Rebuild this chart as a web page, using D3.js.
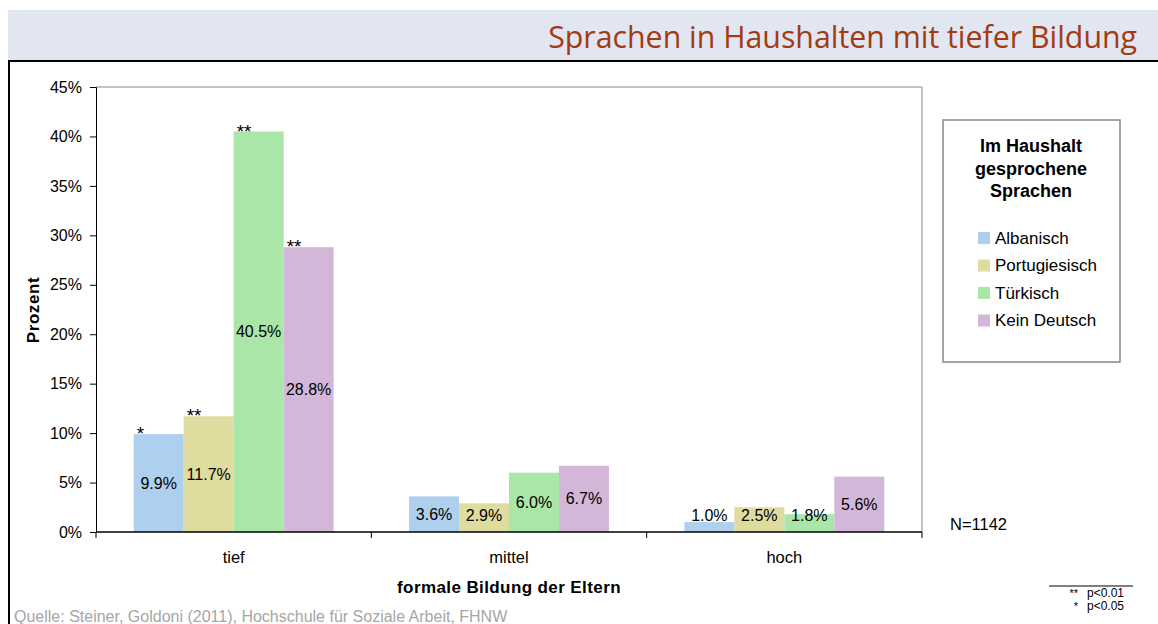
<!DOCTYPE html>
<html>
<head>
<meta charset="utf-8">
<script src="https://cdn.jsdelivr.net/npm/d3@7"></script>
<style>
  body { margin: 0; background: #fff; }
  svg { display: block; font-family: Arial, "Liberation Sans", sans-serif; }
</style>
</head>
<body>
<script>
var categories = ['tief', 'mittel', 'hoch'];
var seriesNames = ['Albanisch', 'Portugiesisch', 'Türkisch', 'Kein Deutsch'];
var seriesColors = ['#AECFEE', '#DFDC9F', '#A9E6A7', '#D3B7D9'];
var albanisch = [9.9, 3.6, 1.0];
var portugiesisch = [11.7, 2.9, 2.5];
var tuerkisch = [40.5, 6.0, 1.8];
var keinDeutsch = [28.8, 6.7, 5.6];
var stars = [['*', '', ''], ['**', '', ''], ['**', '', ''], ['**', '', '']];
var yTicks = [0, 5, 10, 15, 20, 25, 30, 35, 40, 45];

var series = [albanisch, portugiesisch, tuerkisch, keinDeutsch];

var width = 1158, height = 624;
var plot = {left: 96, right: 922, top: 87, bottom: 532};

var svg = d3.select('body').append('svg')
  .attr('width', width)
  .attr('height', height);

// header band + frame
svg.append('rect')
  .attr('x', 8).attr('y', 10)
  .attr('width', width - 8).attr('height', 51)
  .attr('fill', '#E1E6F1');
svg.append('line')
  .attr('x1', 8).attr('x2', width).attr('y1', 61).attr('y2', 61)
  .attr('stroke', '#000').attr('stroke-width', 2);
svg.append('line')
  .attr('x1', 9).attr('x2', 9).attr('y1', 61).attr('y2', height)
  .attr('stroke', '#000').attr('stroke-width', 2);

svg.append('text')
  .text('Sprachen in Haushalten mit tiefer Bildung')
  .attr('x', 1137).attr('y', 48)
  .attr('text-anchor', 'end')
  .style('font-family', '"Open Sans", sans-serif')
  .style('font-size', '30.3px')
  .attr('fill', '#A23B12');

var x0 = d3.scaleBand()
  .domain(categories)
  .range([plot.left, plot.right]);

var groupPad = x0.bandwidth() * 0.137;
var x1 = d3.scaleBand()
  .domain(d3.range(series.length))
  .range([groupPad, x0.bandwidth() - groupPad]);

var y = d3.scaleLinear()
  .domain([0, 45])
  .range([plot.bottom, plot.top]);

// plot area frame (top / right)
svg.append('path')
  .attr('d', 'M' + plot.left + ',' + plot.top + 'H' + plot.right + 'V' + plot.bottom)
  .attr('fill', 'none')
  .attr('stroke', '#888')
  .attr('stroke-width', 1);

// bars
var groups = svg.selectAll('g.series')
  .data(series)
  .enter().append('g')
  .attr('class', 'series');

groups.each(function(vals, si) {
  var g = d3.select(this);
  categories.forEach(function(cat, ci) {
    var v = vals[ci];
    var bx = x0(cat) + x1(si);
    var bw = x1.bandwidth();
    g.append('rect')
      .attr('x', bx)
      .attr('y', y(v))
      .attr('width', bw)
      .attr('height', y(0) - y(v))
      .attr('fill', seriesColors[si]);
    var ly = Math.min((y(0) + y(v)) / 2, y(0) - 17);
    g.append('text')
      .text(v.toFixed(1) + '%')
      .attr('x', bx + bw / 2)
      .attr('y', ly)
      .attr('dy', '0.35em')
      .attr('text-anchor', 'middle')
      .style('font-size', '16px')
      .attr('fill', '#000');
    if (stars[si][ci]) {
      g.append('text')
        .text(stars[si][ci])
        .attr('x', bx + 3)
        .attr('y', y(v) + 6)
        .style('font-size', '19px')
        .attr('fill', '#000');
    }
  });
});

// axes
var yAxis = d3.axisLeft(y)
  .tickValues(yTicks)
  .tickSize(6)
  .tickFormat(function(d) { return d + '%'; });
var gy = svg.append('g')
  .attr('transform', 'translate(' + plot.left + ',0)')
  .call(yAxis);
gy.select('.domain').attr('stroke', '#000');
gy.selectAll('.tick line').attr('stroke', '#000');
gy.selectAll('.tick text')
  .attr('x', -14)
  .style('font-size', '16px')
  .style('font-family', 'Arial, "Liberation Sans", sans-serif')
  .attr('fill', '#000');

var bounds = categories.map(function(c) { return x0(c); }).concat([plot.right]);
var xAxisG = svg.append('g');
xAxisG.append('line')
  .attr('x1', plot.left).attr('x2', plot.right)
  .attr('y1', plot.bottom).attr('y2', plot.bottom)
  .attr('stroke', '#000').attr('stroke-width', 1.5);
xAxisG.selectAll('line.tk')
  .data(bounds)
  .enter().append('line')
  .attr('class', 'tk')
  .attr('x1', function(d) { return d; })
  .attr('x2', function(d) { return d; })
  .attr('y1', plot.bottom).attr('y2', plot.bottom + 6)
  .attr('stroke', '#000');
xAxisG.selectAll('text')
  .data(categories)
  .enter().append('text')
  .text(function(d) { return d; })
  .attr('x', function(d) { return x0(d) + x0.bandwidth() / 2; })
  .attr('y', 563)
  .attr('text-anchor', 'middle')
  .style('font-size', '16.5px');

// axis titles
svg.append('text')
  .text('formale Bildung der Eltern')
  .attr('x', 509).attr('y', 593)
  .attr('text-anchor', 'middle')
  .style('font-size', '17px')
  .style('letter-spacing', '0.4px')
  .style('font-weight', 'bold');

svg.append('text')
  .text('Prozent')
  .attr('transform', 'translate(39,310) rotate(-90)')
  .attr('text-anchor', 'middle')
  .style('font-size', '17px')
  .style('letter-spacing', '0.6px')
  .style('font-weight', 'bold');

// legend
var legend = svg.append('g');
legend.append('rect')
  .attr('x', 943).attr('y', 120)
  .attr('width', 177).attr('height', 242)
  .attr('fill', '#fff')
  .attr('stroke', '#888').attr('stroke-width', 1.5);
['Im Haushalt', 'gesprochene', 'Sprachen'].forEach(function(t, i) {
  legend.append('text')
    .text(t)
    .attr('x', 1031).attr('y', 152 + i * 22.5)
    .attr('text-anchor', 'middle')
    .style('font-size', '18px')
    .style('font-weight', 'bold');
});
seriesNames.forEach(function(name, i) {
  var ly = 238 + i * 27.5;
  legend.append('rect')
    .attr('x', 978).attr('y', ly - 6)
    .attr('width', 12).attr('height', 12)
    .attr('fill', seriesColors[i]);
  legend.append('text')
    .text(name)
    .attr('x', 995).attr('y', ly)
    .attr('dy', '0.35em')
    .style('font-size', '17px');
});

svg.append('text')
  .text('N=1142')
  .attr('x', 950).attr('y', 530)
  .style('font-size', '16.5px');

// footnote
svg.append('line')
  .attr('x1', 1049).attr('x2', 1133).attr('y1', 586).attr('y2', 586)
  .attr('stroke', '#000');
[['**', 'p<0.01'], ['*', 'p<0.05']].forEach(function(r, i) {
  svg.append('text').text(r[0])
    .attr('x', 1078).attr('y', 597 + i * 13)
    .attr('text-anchor', 'end')
    .style('font-size', '11px');
  svg.append('text').text(r[1])
    .attr('x', 1087).attr('y', 597 + i * 13)
    .style('font-size', '12px');
});

svg.append('text')
  .text('Quelle: Steiner, Goldoni (2011), Hochschule für Soziale Arbeit, FHNW')
  .attr('x', 14).attr('y', 622)
  .style('font-size', '16px')
  .attr('fill', '#A6A6A6');
</script>
</body>
</html>
